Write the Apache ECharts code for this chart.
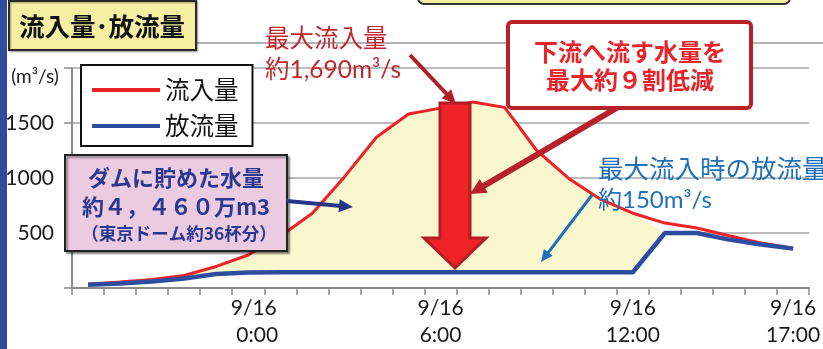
<!DOCTYPE html>
<html><head><meta charset="utf-8">
<script src="https://cdn.jsdelivr.net/npm/echarts@6/dist/echarts.min.js"></script>
<style>html,body{margin:0;padding:0;background:#fff}#c{width:823px;height:349px}</style>
</head><body><div id="c"></div>
<script>
// hourly categories, 9/15 19:00 .. 9/16 17:00
const categories = ['9/15 19:00','9/15 20:00','9/15 21:00','9/15 22:00','9/15 23:00',
  '9/16 0:00','9/16 1:00','9/16 2:00','9/16 3:00','9/16 4:00','9/16 5:00','9/16 6:00',
  '9/16 7:00','9/16 8:00','9/16 9:00','9/16 10:00','9/16 11:00','9/16 12:00',
  '9/16 13:00','9/16 14:00','9/16 15:00','9/16 16:00','9/16 17:00'];
const inflow  = [33, 54, 78, 114, 196, 300, 470, 680, 1010, 1371, 1581, 1635, 1690, 1642, 1250, 996, 805, 680, 590, 545, 475, 410, 362];
const outflow = [29, 40, 58, 86, 128, 140, 143, 143, 143, 143, 143, 143, 143, 143, 143, 143, 143, 143, 500, 500, 440, 395, 358];
const storedUntil = 17; // stored volume shading ends where outflow rises
const tickLabelIndex = [5, 11, 17, 22];
const tickLabels = ['9/16\n0:00', '9/16\n6:00', '9/16\n12:00', '9/16\n17:00'];
const yTicks = [0, 500, 1000, 1500, 2000];

const storedFill = inflow.map((v, i) => i <= storedUntil ? v - outflow[i] : 0);

const JP = '"Noto Sans CJK JP", sans-serif';
const NUM = 'Lato, "Noto Sans CJK JP", sans-serif';

function arrow(x1, y1, x2, y2, w, hl, hw, color) {
  const dx = x2 - x1, dy = y2 - y1, L = Math.hypot(dx, dy);
  const ux = dx / L, uy = dy / L, px = -uy, py = ux;
  const bx = x2 - ux * hl, by = y2 - uy * hl;
  return [
    {type: 'line', z: 100, shape: {x1: x1, y1: y1, x2: bx + ux * 2, y2: by + uy * 2},
     style: {stroke: color, lineWidth: w}},
    {type: 'polygon', z: 100, shape: {points: [[x2, y2], [bx + px * hw / 2, by + py * hw / 2], [bx - px * hw / 2, by - py * hw / 2]]},
     style: {fill: color}}
  ];
}

const chart = echarts.init(document.getElementById('c'), null, {renderer: 'canvas'});

const graphics = [
  {type: 'rect', z: 100, shape: {x: 0, y: 0, width: 7, height: 349}, style: {fill: '#2F4C9F'}},
  {type: 'line', z: 90, shape: {x1: 196, y1: 43, x2: 823, y2: 43}, style: {stroke: '#9a9a9a', lineWidth: 1.5}},
  {type: 'rect', z: 100, shape: {x: 418, y: -30, width: 372, height: 34, r: 6}, style: {fill: '#F4EFA2', stroke: '#333', lineWidth: 2}},
  {type: 'rect', z: 100, shape: {x: 9, y: 1, width: 187, height: 49}, style: {fill: '#F4EFA2', stroke: '#2a2a2a', lineWidth: 2, shadowColor: 'rgba(0,0,0,0.35)', shadowOffsetX: 1, shadowOffsetY: 1, shadowBlur: 2}},
  {type: 'text', z: 101, style: {x: 102, y: 26, text: '流入量･放流量', font: 'bold 25.5px ' + JP, fill: '#111', align: 'center', verticalAlign: 'middle'}},
  {type: 'text', z: 101, style: {x: 35, y: 77, text: '(m³/s)', font: '19px ' + NUM, fill: '#222', align: 'center', verticalAlign: 'middle'}},
  // stored volume box
  {type: 'rect', z: 100, shape: {x: 65, y: 155, width: 222, height: 96}, style: {fill: '#EBCBE0', stroke: '#222', lineWidth: 2, shadowColor: 'rgba(0,0,0,0.4)', shadowOffsetX: 2, shadowOffsetY: 2, shadowBlur: 2}},
  {type: 'text', z: 101, style: {x: 176, y: 178, text: 'ダムに貯めた水量', font: 'bold 22px ' + JP, fill: '#2B388F', align: 'center', verticalAlign: 'middle'}},
  {type: 'text', z: 101, style: {x: 176, y: 207, text: '約４，４６０万m3', font: 'bold 22px ' + JP, fill: '#2B388F', align: 'center', verticalAlign: 'middle'}},
  {type: 'text', z: 101, style: {x: 179, y: 233, text: '（東京ドーム約36杯分）', font: 'bold 17.5px ' + JP, fill: '#2B388F', align: 'center', verticalAlign: 'middle'}},
  ...arrow(287, 201, 353, 207, 4, 14, 13, '#283585'),
  // max inflow
  {type: 'text', z: 101, style: {x: 265, y: 38, text: '最大流入量', font: '24.5px ' + JP, fill: '#C0282D', align: 'left', verticalAlign: 'middle'}},
  {type: 'text', z: 101, style: {x: 265, y: 70, text: '約1,690m³/s', font: '24.5px ' + NUM, fill: '#C0282D', align: 'left', verticalAlign: 'middle'}},
  ...arrow(410, 55, 456, 104, 4, 14, 13, '#B11F26'),
  // big red arrow
  {type: 'polygon', z: 100, shape: {points: [[440, 103], [470, 103], [470, 238], [486, 238], [455, 268], [424, 238], [440, 238]]},
   style: {fill: '#EE2227', stroke: '#B01F24', lineWidth: 3, lineJoin: 'miter'}},
  // callout
  ...arrow(620, 106, 470, 194, 6, 16, 16, '#B8202A'),
  {type: 'rect', z: 100, shape: {x: 508, y: 22, width: 243, height: 86, r: 4}, style: {fill: '#fff', stroke: '#B8202A', lineWidth: 4}},
  {type: 'text', z: 101, style: {x: 630, y: 52, text: '下流へ流す水量を', font: 'bold 24px ' + JP, fill: '#E8232A', align: 'center', verticalAlign: 'middle'}},
  {type: 'text', z: 101, style: {x: 630, y: 80, text: '最大約９割低減', font: 'bold 24px ' + JP, fill: '#E8232A', align: 'center', verticalAlign: 'middle'}},
  // outflow at max inflow
  {type: 'text', z: 101, style: {x: 598, y: 168, text: '最大流入時の放流量', font: '25.5px ' + JP, fill: '#1F70B8', align: 'left', verticalAlign: 'middle'}},
  {type: 'text', z: 101, style: {x: 598, y: 200, text: '約150m³/s', font: '24px ' + NUM, fill: '#1F70B8', align: 'left', verticalAlign: 'middle'}},
  ...arrow(592, 195, 541, 262, 3, 12, 11, '#1F70B8')
];

chart.setOption({
  animation: false,
  grid: {left: 72, right: 10, top: 68, bottom: 58},
  legend: {
    left: 81, top: 65, orient: 'vertical',
    data: [{name: '流入量', icon: 'rect'}, {name: '放流量', icon: 'rect'}],
    itemWidth: 68, itemHeight: 4, itemGap: 10,
    padding: [12, 14, 7, 11],
    backgroundColor: '#fff', borderColor: '#111', borderWidth: 2,
    textStyle: {fontSize: 24.5, fontFamily: JP, color: '#111', lineHeight: 26}
  },
  xAxis: {
    type: 'category', data: categories, boundaryGap: true,
    axisLine: {lineStyle: {color: '#8c8c8c', width: 2}},
    axisTick: {show: true, interval: 0, length: 7, lineStyle: {color: '#8c8c8c', width: 1.5}},
    axisLabel: {
      interval: 0, margin: 7, color: '#1a1a1a', fontSize: 21, fontFamily: NUM, lineHeight: 27,
      formatter: (v, i) => {
        const k = tickLabelIndex.indexOf(i);
        if (k < 0) return '';
        if (k === 0) {
          const parts = tickLabels[0].split('\n');
          return '{a|' + parts[0] + '}\n{b|' + parts[1] + '}';
        }
        return tickLabels[k];
      },
      rich: {
        a: {fontSize: 21, fontFamily: NUM, color: '#1a1a1a', lineHeight: 27, padding: [0, 0, 0, 11]},
        b: {fontSize: 21, fontFamily: NUM, color: '#1a1a1a', lineHeight: 27, padding: [0, 0, 0, 18]}
      }
    }
  },
  yAxis: {
    type: 'value', min: yTicks[0], max: yTicks[yTicks.length - 1], interval: 500,
    axisLine: {show: true, lineStyle: {color: '#8c8c8c', width: 2}},
    axisTick: {show: true, length: 8, lineStyle: {color: '#8c8c8c', width: 1.5}},
    splitLine: {lineStyle: {color: '#a6a6a6', width: 1.5}},
    axisLabel: {
      margin: 18, color: '#1a1a1a', fontSize: 21, fontFamily: NUM,
      formatter: v => (v === yTicks[0] || v === yTicks[yTicks.length - 1]) ? '' : String(v)
    }
  },
  series: [
    {name: 'base', type: 'line', stack: 'stored', data: outflow, symbol: 'none', silent: true,
     lineStyle: {width: 0, opacity: 0}, z: 1},
    {name: 'stored', type: 'line', stack: 'stored', data: storedFill, symbol: 'none', silent: true,
     lineStyle: {width: 0, opacity: 0}, areaStyle: {color: '#FAF6CE', opacity: 1}, z: 1},
    {name: '流入量', type: 'line', data: inflow, symbol: 'none', lineStyle: {color: '#EE2227', width: 3}, itemStyle: {color: '#EE2227'}, z: 3},
    {name: '放流量', type: 'line', data: outflow, symbol: 'none', lineStyle: {color: '#2E4DA0', width: 4.5}, itemStyle: {color: '#2E4DA0'}, z: 4}
  ],
  graphic: graphics
});
</script></body></html>
